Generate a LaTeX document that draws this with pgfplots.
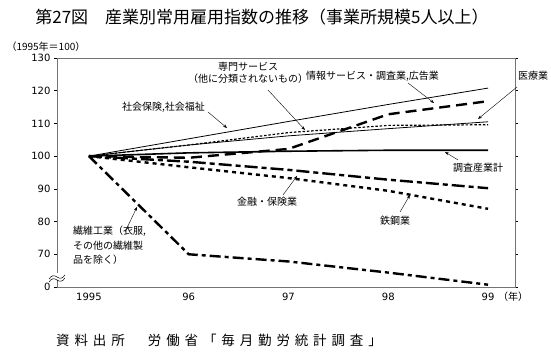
\documentclass[border=0pt]{standalone}
\usepackage{fontspec}
\setmainfont{Noto Sans CJK JP}
\newfontfamily\dejavu{DejaVu Sans}
\usepackage{pgfplots}
\pgfplotsset{compat=1.18}
\usetikzlibrary{arrows.meta}
\begin{document}
\begin{tikzpicture}[x=1pt,y=1pt]
\useasboundingbox (0,0) rectangle (551,352);
\begin{axis}[at={(57pt,65pt)}, anchor=south west, scale only axis,
  width=458pt, height=229pt,
  xmin=-0.32, xmax=4.27, ymin=60, ymax=130,
  xtick={0,1,2,3,4}, xticklabels={1995,96,97,98,99},
  ytick={60,70,80,90,100,110,120,130},
  yticklabels={0,70,80,90,100,110,120,130},
  axis line style={draw=gray!90!black},
  xtick style={draw=none},
  ytick style={draw=black, line width=0.5pt},
  tick align=outside, major tick length=3pt,
  /pgf/number format/assume math mode=true,
  ticklabel style={font=\dejavu\fontsize{10}{11}\selectfont},
  clip=false]
% 社会保険,社会福祉
\addplot[black, line width=0.8pt] coordinates {(0,100)(1,105.3)(2,110.6)(3,115.8)(4,120.8)};
% 医療業
\addplot[black, line width=0.8pt] coordinates {(0,100)(1,103.4)(2,106.2)(3,108.4)(4,110.5)};
% 専門サービス
\addplot[black, line width=1.2pt, dash pattern=on 2.5pt off 1.8pt] coordinates {(0,100)(1,103.4)(2,107.2)(3,109.4)(4,109.6)};
% 情報サービス・調査業,広告業
\addplot[black, line width=2.4pt, dash pattern=on 11pt off 6pt] coordinates {(0,100)(1,99.5)(2,102.2)(3,112.8)(4,116.8)};
% 調査産業計
\addplot[black, line width=1.6pt] coordinates {(0,100)(1,101)(2,101.5)(3,101.8)(4,101.8)};
% 金融・保険業
\addplot[black, line width=2.4pt, dash pattern=on 13pt off 4pt on 5pt off 4pt] coordinates {(0,100)(1,98.3)(2,95.8)(3,92.8)(4,90.2)};
% 鉄鋼業
\addplot[black, line width=2.4pt, dash pattern=on 4pt off 4pt] coordinates {(0,100)(1,96.6)(2,93.3)(3,89.4)(4,83.9)};
% 繊維工業
\addplot[black, line width=2.4pt, dash pattern=on 11pt off 4pt on 4pt off 4pt] coordinates {(0,100)(1,70)(2,67.8)(3,64.4)(4,60.7)};
\end{axis}
% axis break mark
\fill[white] (52,72) rectangle (62,79);
\draw[black, line width=0.5pt] (49,73) .. controls (52,77) and (54,77) .. (57,75) .. controls (60,73) and (62,73) .. (65,77);
\draw[black, line width=0.5pt] (49,70) .. controls (52,74) and (54,74) .. (57,72) .. controls (60,70) and (62,70) .. (65,74);
% title
\node[font=\fontsize{17}{19}\selectfont] at (262,335) {第27図　産業別常用雇用指数の推移（事業所規模5人以上）};
\node[font=\fontsize{10}{11}\selectfont, anchor=west] at (3,305) {（1995年＝100）};
\node[font=\fontsize{10}{11}\selectfont] at (513,55) {（年）};
% source
\node[font=\fontsize{13.5}{15}\selectfont\addfontfeature{LetterSpace=36}, anchor=west, inner sep=0pt] at (56,12) {資料出所　労働省「毎月勤労統計調査」};
% annotations
\tikzset{ann/.style={font=\fontsize{10}{12.5}\selectfont, inner sep=0pt}, arr/.style={-{Stealth[length=4pt,width=3pt]}, line width=0.4pt}}
\node[ann, align=center] at (248,279) {専門サービス\\（他に分類されないもの）};
\draw[arr] (268,262) -- (305,222);
\node[ann, anchor=west] at (306,276) {情報サービス・調査業,広告業};
\draw[arr] (408,269) -- (434,249);
\node[ann, anchor=west] at (518,276) {医療業};
\draw[arr] (517,265) -- (478,233);
\node[ann, anchor=west] at (122,245) {社会保険,社会福祉};
\draw[arr] (208,240) -- (227,224);
\node[ann, anchor=west] at (453,184) {調査産業計};
\draw[arr] (458,192) -- (445,200);
\node[ann, anchor=west] at (237,150) {金融・保険業};
\draw[arr] (283,157) -- (297,176);
\node[ann, anchor=west] at (380,131) {鉄鋼業};
\draw[arr] (400,140) -- (410,157);
\node[ann, anchor=north west, align=left, font=\fontsize{10}{14.5}\selectfont] at (73,126) {繊維工業（衣服,\\その他の繊維製\\品を除く）};
\draw[arr] (125,120) -- (137,145);
\end{tikzpicture}
\end{document}
